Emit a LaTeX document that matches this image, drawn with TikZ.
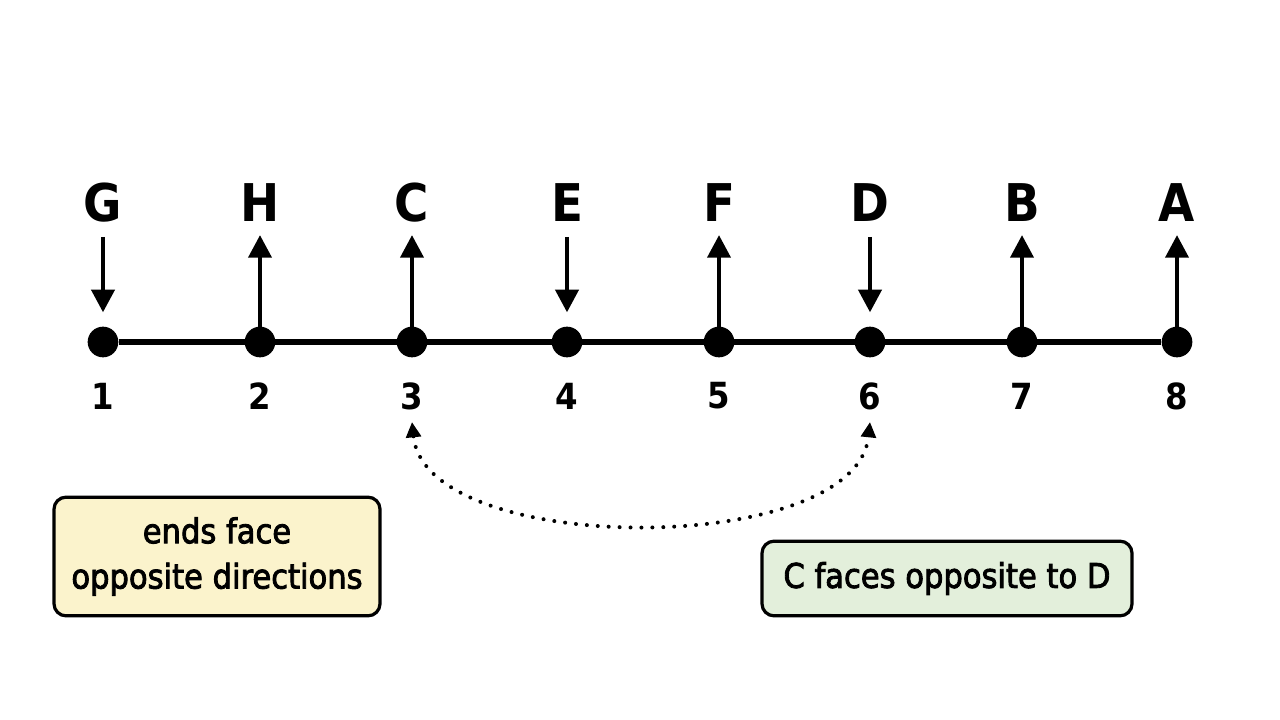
\documentclass[tikz,border=0pt]{standalone}
\usepackage{fontspec}
\setmainfont{DejaVu Sans Condensed}
\newfontfamily\notefont[FakeBold=2.5]{DejaVu Sans Condensed}
\usetikzlibrary{arrows.meta}

\definecolor{noteyellow}{RGB}{251,243,204}
\definecolor{notegreen}{RGB}{227,239,219}

\tikzset{
  site/.style={circle,fill=black,inner sep=0pt,minimum size=23pt},
  letter/.style={inner sep=0pt,font=\bfseries\fontsize{39}{39}\selectfont},
  number/.style={inner sep=0pt,font=\bfseries\fontsize{27}{27}\selectfont},
  facing/.style={line width=3.6pt,-{Triangle[length=17pt,width=17pt]}},
  swap/.style={line width=3pt,line cap=round,dash pattern=on 0pt off 8.2pt,
    {Triangle[length=11.5pt,width=11pt]}-{Triangle[length=11.5pt,width=11pt]}},
  note/.style={draw=black,line width=2.4pt,rounded corners=9pt,align=center,
    font=\notefont\fontsize{25.5}{34}\selectfont}
}

\begin{document}
\begin{tikzpicture}[x=0.75pt,y=0.75pt,yscale=-1,xscale=1]
\useasboundingbox (0,0) rectangle (1280,720);

%Shape: sites on the line
\node [site] (p1) at (103,342) {};
\node [site] (p2) at (260,342) {};
\node [site] (p3) at (412,342) {};
\node [site] (p4) at (567,342) {};
\node [site] (p5) at (719,342) {};
\node [site] (p6) at (870,342) {};
\node [site] (p7) at (1022,342) {};
\node [site] (p8) at (1177,342) {};
%Straight Lines
\draw [line width=3.8pt] (p1) -- (p8) ;

% Text Node
\node [letter] (lG) at (103,203) {G};
\node [letter] (lH) at (260,203) {H};
\node [letter] (lC) at (412,203) {C};
\node [letter] (lE) at (567,203) {E};
\node [letter] (lF) at (719,203) {F};
\node [letter] (lD) at (870,203) {D};
\node [letter] (lB) at (1022,203) {B};
\node [letter] (lA) at (1177,203) {A};

% Text Node
\node [number] (n1) at (103,396) {1};
\node [number] (n2) at (260,396) {2};
\node [number] (n3) at (412,396) {3};
\node [number] (n4) at (567,396) {4};
\node [number] (n5) at (719,396) {5};
\node [number] (n6) at (870,396) {6};
\node [number] (n7) at (1022,396) {7};
\node [number] (n8) at (1177,396) {8};

%Straight Lines: facing down
\coordinate (d1) at (103,237);
\coordinate (d4) at (567,237);
\coordinate (d6) at (870,237);
\draw [facing,shorten >=10.5pt] (d1) -- (p1) ;
\draw [facing,shorten >=10.5pt] (d4) -- (p4) ;
\draw [facing,shorten >=10.5pt] (d6) -- (p6) ;
%Straight Lines: facing up
\coordinate (u2) at (260,235);
\coordinate (u3) at (412,235);
\coordinate (u5) at (719,235);
\coordinate (u7) at (1022,235);
\coordinate (u8) at (1177,235);
\draw [facing] (p2.center) -- (u2) ;
\draw [facing] (p3.center) -- (u3) ;
\draw [facing] (p5.center) -- (u5) ;
\draw [facing] (p7.center) -- (u7) ;
\draw [facing] (p8.center) -- (u8) ;

%Curve Lines
\coordinate (t3) at (412,422);
\coordinate (t6) at (870,422);
\draw [swap] (t3) .. controls (426,558) and (856,558) .. (t6) ;

% Text Node
\node [note,fill=noteyellow,minimum width=244.5pt,minimum height=89pt] (ends) at (217,556.5) {ends face\\opposite directions};
% Text Node
\node [note,fill=notegreen,minimum width=277.5pt,minimum height=56pt] (cd) at (947,578.5) {C faces opposite to D};

\end{tikzpicture}
\end{document}
